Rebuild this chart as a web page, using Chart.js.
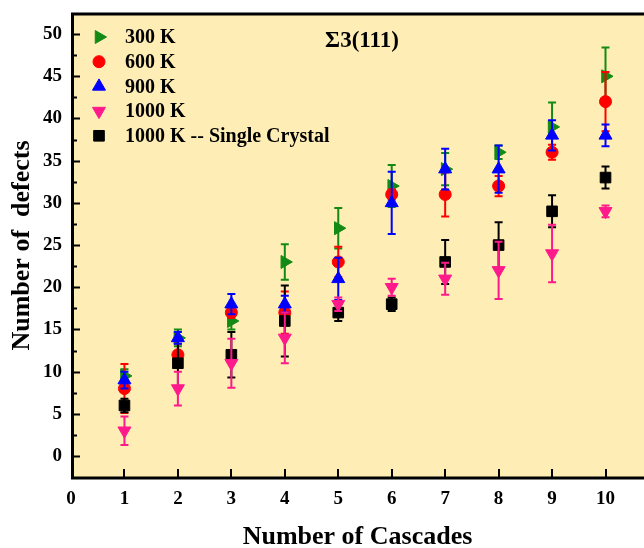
<!DOCTYPE html>
<html>
<head>
<meta charset="utf-8">
<script src="https://cdn.jsdelivr.net/npm/chart.js@4.4.1/dist/chart.umd.min.js"></script>
<style>
  body { margin: 0; background: #fff; }
  canvas { display: block; }
</style>
</head>
<body>
<canvas id="defectChart" width="644" height="548"></canvas>
<script>
// number of cascades (x axis)
const cascades = [1, 2, 3, 4, 5, 6, 7, 8, 9, 10];

// defect counts per temperature, with their error bars
const defects300 = [9.5, 14, 16, 23, 27, 32, 34, 36, 39, 45];
const errors300 = [0.8, 1.0, 1.0, 2.1, 2.4, 2.5, 1.9, 0.8, 2.9, 3.4];

const defects600 = [8, 12, 17, 17, 23, 31, 31, 32, 36, 42];
const errors600 = [2.9, 1.3, 0.6, 2.5, 1.8, 0.6, 2.6, 1.2, 0.9, 3.5];

const defects900 = [9, 14, 18, 18, 21, 30, 34, 34, 38, 38];
const errors900 = [1.0, 0.7, 1.2, 1.0, 2.5, 3.7, 2.4, 2.8, 1.8, 1.3];

const defects1000 = [3, 8, 11, 14, 18, 20, 21, 22, 24, 29];
const errors1000 = [1.7, 2.0, 2.9, 3.0, 0.8, 1.0, 1.9, 3.4, 3.4, 0.7];

const defectsSingle = [6, 11, 12, 16, 17, 18, 23, 25, 29, 33];
const errorsSingle = [0.8, 2.7, 2.7, 4.2, 1.0, 0.8, 2.6, 2.7, 1.9, 1.3];

const seriesNames = ["300 K", "600 K", "900 K", "1000 K", "1000 K -- Single Crystal"];

const xTicks = [0, 1, 2, 3, 4, 5, 6, 7, 8, 9, 10];
const yTicks = [0, 5, 10, 15, 20, 25, 30, 35, 40, 45, 50];

const FONT = "'Liberation Serif', 'Times New Roman', serif";

function makeSet(label, values, errors, color, style, rotation, radius, order) {
    return {
        label: label,
        data: cascades.map((x, i) => ({ x: x, y: values[i] })),
        errors: errors,
        showLine: false,
        pointStyle: style,
        rotation: rotation,
        pointRadius: radius,
        pointBorderWidth: 1,
        backgroundColor: color,
        borderColor: color,
        order: order
    };
}

const datasets = [
    makeSet(seriesNames[0], defects300, errors300, "#138A13", "triangle", 90, 7.5, 5),
    makeSet(seriesNames[1], defects600, errors600, "#FF0000", "circle", 0, 6, 4),
    makeSet(seriesNames[2], defects900, errors900, "#0000FF", "triangle", 0, 7.5, 2),
    makeSet(seriesNames[3], defects1000, errors1000, "#FF1A8C", "triangle", 180, 7.5, 1),
    makeSet(seriesNames[4], defectsSingle, errorsSingle, "#000000", "rect", 0, 7.5, 3)
];

// background, error bars, inward ticks, frame, legend and the Σ3(111) tag
const plotDeco = {
    id: "plotDeco",
    afterLayout(chart) {
        // the plot runs right up to the canvas edge
        const a = chart.chartArea;
        const xs = chart.scales.x;
        a.right = chart.width;
        a.width = a.right - a.left;
        xs.left = a.left;
        xs.right = a.right;
        xs.width = a.width;
        xs.configure();
    },
    beforeDraw(chart) {
        const { ctx, chartArea: a } = chart;
        ctx.save();
        ctx.fillStyle = "#FEEDB4";
        ctx.fillRect(a.left, a.top, a.right - a.left, a.bottom - a.top);
        ctx.restore();
    },
    beforeDatasetDraw(chart, args) {
        const ds = chart.data.datasets[args.index];
        const yScale = chart.scales.y;
        const ctx = chart.ctx;
        ctx.save();
        ctx.strokeStyle = ds.borderColor;
        ctx.lineWidth = 2;
        args.meta.data.forEach((pt, i) => {
            const v = ds.data[i].y;
            const e = ds.errors[i];
            const top = yScale.getPixelForValue(v + e);
            const bot = yScale.getPixelForValue(v - e);
            ctx.beginPath();
            ctx.moveTo(pt.x, top);
            ctx.lineTo(pt.x, bot);
            ctx.moveTo(pt.x - 4, top);
            ctx.lineTo(pt.x + 4, top);
            ctx.moveTo(pt.x - 4, bot);
            ctx.lineTo(pt.x + 4, bot);
            ctx.stroke();
        });
        ctx.restore();
    },
    afterDraw(chart) {
        const { ctx, chartArea: a } = chart;
        const xs = chart.scales.x;
        const ys = chart.scales.y;
        ctx.save();

        // ticks pointing into the plot
        ctx.strokeStyle = "#000";
        ctx.lineWidth = 2;
        ctx.beginPath();
        yTicks.forEach((v) => {
            const y = Math.round(ys.getPixelForValue(v)) + 0.5;
            ctx.moveTo(a.left, y);
            ctx.lineTo(a.left + 9, y);
            const m = Math.round(ys.getPixelForValue(v + 2.5)) + 0.5;
            if (v + 2.5 < ys.max) {
                ctx.moveTo(a.left, m);
                ctx.lineTo(a.left + 6, m);
            }
        });
        xTicks.forEach((v) => {
            if (v === 0) return;
            const x = Math.round(xs.getPixelForValue(v));
            ctx.moveTo(x, a.bottom);
            ctx.lineTo(x, a.bottom - 9);
        });
        ctx.stroke();

        // frame: left, bottom and top
        ctx.lineWidth = 3;
        ctx.beginPath();
        ctx.moveTo(a.right, a.top + 1);
        ctx.lineTo(a.left + 1.5, a.top + 1);
        ctx.lineTo(a.left + 1.5, a.bottom);
        ctx.lineTo(a.right, a.bottom);
        ctx.stroke();

        // legend
        const helpers = Chart.helpers;
        ctx.font = "bold 20px " + FONT;
        ctx.textBaseline = "middle";
        ctx.textAlign = "left";
        chart.data.datasets.forEach((ds, i) => {
            const y = 37 + i * 24.7;
            ctx.fillStyle = ds.backgroundColor;
            ctx.strokeStyle = ds.borderColor;
            ctx.lineWidth = 1;
            helpers.drawPoint(ctx, {
                pointStyle: ds.pointStyle,
                rotation: ds.rotation,
                radius: ds.pointRadius,
                borderWidth: 1
            }, 99, y);
            ctx.fillStyle = "#000";
            ctx.fillText(ds.label, 125, y + 1);
        });

        ctx.font = "bold 23px " + FONT;
        ctx.textAlign = "center";
        ctx.fillText("Σ3(111)", 362, 41);
        ctx.restore();
    }
};

new Chart(document.getElementById("defectChart"), {
    type: "scatter",
    data: { datasets: datasets },
    options: {
        responsive: false,
        animation: false,
        layout: { padding: { top: 13, right: 0, left: 0, bottom: 0 } },
        plugins: {
            legend: { display: false },
            tooltip: { enabled: false }
        },
        scales: {
            x: {
                type: "linear",
                min: 0,
                max: 10.72,
                afterBuildTicks: (scale) => { scale.ticks = xTicks.map((v) => ({ value: v })); },
                afterFit: (scale) => {
                    scale.height = 70;
                    scale.paddingLeft = 0;
                    scale.paddingRight = 0;
                },
                grid: { display: false, drawTicks: false },
                border: { display: false },
                ticks: {
                    color: "#000",
                    padding: 10,
                    maxRotation: 0,
                    font: { family: FONT, size: 19, weight: "bold" }
                },
                title: {
                    display: true,
                    text: "Number of Cascades",
                    color: "#000",
                    padding: { top: 0, bottom: 0 },
                    font: { family: FONT, size: 26, weight: "bold", lineHeight: 0.8 }
                }
            },
            y: {
                type: "linear",
                min: -2.6,
                max: 52.5,
                afterBuildTicks: (scale) => { scale.ticks = yTicks.map((v) => ({ value: v })); },
                afterFit: (scale) => {
                    scale.width = 71;
                    scale.paddingTop = 0;
                    scale.paddingBottom = 0;
                },
                grid: { display: false, drawTicks: false },
                border: { display: false },
                ticks: {
                    color: "#000",
                    padding: 9,
                    font: { family: FONT, size: 19, weight: "bold" }
                },
                title: {
                    display: true,
                    text: "Number of  defects",
                    color: "#000",
                    padding: { top: 12, bottom: 0 },
                    font: { family: FONT, size: 26, weight: "bold", lineHeight: 0.8 }
                }
            }
        }
    },
    plugins: [plotDeco]
});
</script>
</body>
</html>
